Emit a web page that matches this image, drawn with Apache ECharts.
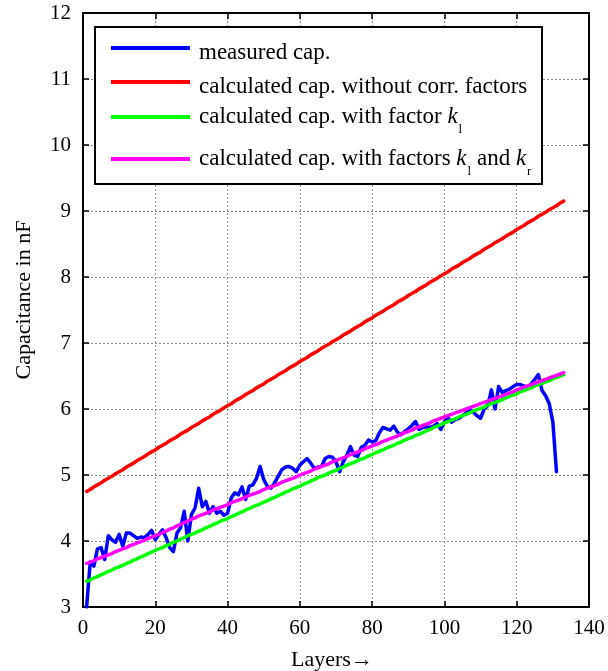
<!DOCTYPE html>
<html>
<head>
<meta charset="utf-8">
<script src="https://cdn.jsdelivr.net/npm/echarts@6/dist/echarts.min.js"></script>
<style>
  html, body { margin: 0; padding: 0; background: #fff; }
  #chart { width: 608px; height: 671px; }
</style>
</head>
<body>
<div id="chart"></div>
<script>
// Layer index of each winding layer (1 .. 133)
const layers = Array.from({ length: 133 }, (_, i) => i + 1);

// Measured capacitance in nF, layers 1 .. 131
const measuredCap = [
  3.00, 3.68, 3.62, 3.88, 3.90, 3.72, 4.08, 4.02, 3.98, 4.10,
  3.92, 4.12, 4.12, 4.08, 4.04, 4.06, 4.05, 4.10, 4.16, 4.02,
  4.10, 4.17, 4.05, 3.90, 3.84, 4.12, 4.20, 4.45, 4.00, 4.40,
  4.50, 4.80, 4.52, 4.60, 4.42, 4.52, 4.42, 4.45, 4.39, 4.42,
  4.65, 4.73, 4.70, 4.82, 4.63, 4.83, 4.85, 4.95, 5.13, 4.93,
  4.83, 4.80, 4.88, 4.98, 5.08, 5.12, 5.13, 5.10, 5.05, 5.15,
  5.20, 5.25, 5.18, 5.10, 5.12, 5.13, 5.25, 5.28, 5.27, 5.20,
  5.05, 5.20, 5.30, 5.43, 5.30, 5.28, 5.42, 5.45, 5.53, 5.50,
  5.52, 5.64, 5.72, 5.70, 5.68, 5.74, 5.65, 5.61, 5.66, 5.70,
  5.75, 5.81, 5.69, 5.72, 5.73, 5.72, 5.74, 5.78, 5.69, 5.81,
  5.86, 5.80, 5.84, 5.86, 5.90, 5.94, 5.99, 5.95, 5.90, 5.86,
  6.00, 6.05, 6.29, 6.00, 6.34, 6.25, 6.28, 6.30, 6.34, 6.37,
  6.37, 6.35, 6.32, 6.38, 6.45, 6.52, 6.28, 6.20, 6.08, 5.80,
  5.05
];

// Calculated capacitance without correction factors, nF
const calcNoCorr = [
  4.75, 4.78, 4.82, 4.85, 4.88, 4.92, 4.95, 4.98, 5.02, 5.05,
  5.08, 5.12, 5.15, 5.18, 5.22, 5.25, 5.28, 5.32, 5.35, 5.38,
  5.42, 5.45, 5.48, 5.52, 5.55, 5.58, 5.62, 5.65, 5.68, 5.72,
  5.75, 5.78, 5.82, 5.85, 5.88, 5.92, 5.95, 5.98, 6.02, 6.05,
  6.08, 6.12, 6.15, 6.18, 6.22, 6.25, 6.28, 6.32, 6.35, 6.38,
  6.42, 6.45, 6.48, 6.52, 6.55, 6.58, 6.62, 6.65, 6.68, 6.72,
  6.75, 6.78, 6.82, 6.85, 6.88, 6.92, 6.95, 6.98, 7.02, 7.05,
  7.08, 7.12, 7.15, 7.18, 7.22, 7.25, 7.28, 7.32, 7.35, 7.38,
  7.42, 7.45, 7.48, 7.52, 7.55, 7.58, 7.62, 7.65, 7.68, 7.72,
  7.75, 7.78, 7.82, 7.85, 7.88, 7.92, 7.95, 7.98, 8.02, 8.05,
  8.08, 8.12, 8.15, 8.18, 8.22, 8.25, 8.28, 8.32, 8.35, 8.38,
  8.42, 8.45, 8.48, 8.52, 8.55, 8.58, 8.62, 8.65, 8.68, 8.72,
  8.75, 8.78, 8.82, 8.85, 8.88, 8.92, 8.95, 8.98, 9.02, 9.05,
  9.08, 9.12, 9.15
];

// Calculated capacitance with factor k_l, nF
const calcWithKl = [
  3.39, 3.41, 3.44, 3.46, 3.49, 3.51, 3.54, 3.56, 3.59, 3.61,
  3.63, 3.66, 3.68, 3.71, 3.73, 3.76, 3.78, 3.81, 3.83, 3.86,
  3.88, 3.90, 3.93, 3.95, 3.98, 4.00, 4.03, 4.05, 4.08, 4.10,
  4.12, 4.15, 4.17, 4.20, 4.22, 4.25, 4.27, 4.30, 4.32, 4.34,
  4.37, 4.39, 4.42, 4.44, 4.47, 4.49, 4.52, 4.54, 4.56, 4.59,
  4.61, 4.64, 4.66, 4.69, 4.71, 4.74, 4.76, 4.79, 4.81, 4.83,
  4.86, 4.88, 4.91, 4.93, 4.96, 4.98, 5.00, 5.03, 5.05, 5.07,
  5.10, 5.12, 5.15, 5.17, 5.19, 5.22, 5.24, 5.26, 5.29, 5.31,
  5.34, 5.36, 5.38, 5.41, 5.43, 5.45, 5.48, 5.50, 5.53, 5.55,
  5.57, 5.60, 5.62, 5.64, 5.67, 5.69, 5.72, 5.74, 5.76, 5.79,
  5.81, 5.83, 5.85, 5.88, 5.90, 5.92, 5.94, 5.97, 5.99, 6.01,
  6.03, 6.06, 6.08, 6.10, 6.12, 6.14, 6.17, 6.19, 6.21, 6.23,
  6.26, 6.28, 6.30, 6.32, 6.35, 6.37, 6.39, 6.41, 6.43, 6.46,
  6.48, 6.50, 6.52
];

// Calculated capacitance with factors k_l and k_r, nF
const calcWithKlKr = [
  3.66, 3.68, 3.70, 3.73, 3.75, 3.77, 3.79, 3.81, 3.84, 3.86,
  3.88, 3.90, 3.93, 3.95, 3.97, 3.99, 4.01, 4.04, 4.06, 4.08,
  4.10, 4.13, 4.15, 4.18, 4.20, 4.23, 4.25, 4.28, 4.30, 4.33,
  4.35, 4.38, 4.40, 4.42, 4.44, 4.47, 4.49, 4.51, 4.53, 4.55,
  4.58, 4.60, 4.62, 4.64, 4.67, 4.69, 4.71, 4.73, 4.75, 4.78,
  4.80, 4.82, 4.84, 4.86, 4.89, 4.91, 4.93, 4.95, 4.97, 5.00,
  5.02, 5.04, 5.06, 5.09, 5.11, 5.13, 5.15, 5.17, 5.20, 5.22,
  5.24, 5.26, 5.28, 5.31, 5.33, 5.35, 5.37, 5.40, 5.42, 5.44,
  5.46, 5.48, 5.51, 5.53, 5.55, 5.57, 5.59, 5.62, 5.64, 5.66,
  5.68, 5.71, 5.73, 5.75, 5.77, 5.79, 5.82, 5.84, 5.86, 5.88,
  5.90, 5.92, 5.94, 5.96, 5.98, 6.00, 6.02, 6.04, 6.06, 6.08,
  6.10, 6.12, 6.14, 6.16, 6.18, 6.20, 6.22, 6.24, 6.26, 6.29,
  6.31, 6.33, 6.35, 6.37, 6.39, 6.41, 6.43, 6.45, 6.47, 6.49,
  6.51, 6.53, 6.55
];

const seriesNames = [
  'measured cap.',
  'calculated cap. without corr. factors',
  'calculated cap. with factor kl',
  'calculated cap. with factors kl and kr'
];
const seriesColors = ['#0000ff', '#ff0000', '#00ff00', '#ff00ff'];
const seriesValues = [measuredCap, calcNoCorr, calcWithKl, calcWithKlKr];

// Legend labels: italic k with lowered subscripts
const legendLabels = {
  'measured cap.': '{p|measured cap.}',
  'calculated cap. without corr. factors': '{p|calculated cap. without corr. factors}',
  'calculated cap. with factor kl': '{t|calculated cap. with factor }{k|k}{s|l}',
  'calculated cap. with factors kl and kr': '{t|calculated cap. with factors }{k|k}{s|l}{m| and }{k|k}{s|r}'
};

const serif = 'Liberation Serif, Times New Roman, serif';
const legendRowTops = [36, 70, 105, 147];

const chart = echarts.init(document.getElementById('chart'), null, { renderer: 'canvas' });

const richText = {
  p: { fontFamily: serif, fontSize: 23, color: '#000', lineHeight: 24, verticalAlign: 'top', padding: [5, 0, 0, 4] },
  t: { fontFamily: serif, fontSize: 23, color: '#000', lineHeight: 24, verticalAlign: 'top', padding: [0, 0, 0, 4] },
  m: { fontFamily: serif, fontSize: 23, color: '#000', lineHeight: 24, verticalAlign: 'top' },
  k: { fontFamily: serif, fontSize: 23, fontStyle: 'italic', color: '#000', lineHeight: 24, verticalAlign: 'top' },
  s: { fontFamily: serif, fontSize: 13, color: '#000', lineHeight: 13, verticalAlign: 'top', padding: [18, 0, 0, 1] }
};

const axisLineStyle = { color: '#000', width: 2 };
const tickStyle = { show: true, inside: true, length: 6, lineStyle: { color: '#000', width: 1.5 } };
const gridLine = { show: true, lineStyle: { color: '#888', width: 1, type: [2, 2] } };

chart.setOption({
  animation: false,
  backgroundColor: '#fff',
  grid: { left: 83, right: 19, top: 13, bottom: 64, containLabel: false, outerBoundsMode: 'none' },
  graphic: [{
    type: 'rect',
    z: 5,
    shape: { x: 95, y: 27, width: 447, height: 157 },
    style: { fill: '#fff', stroke: '#000', lineWidth: 2 }
  }],
  legend: seriesNames.map((name, i) => ({
    data: [name],
    orient: 'vertical',
    left: 111,
    top: legendRowTops[i],
    padding: 0,
    itemWidth: 79,
    itemHeight: 4,
    icon: 'rect',
    selectedMode: false,
    z: 10,
    formatter: n => legendLabels[n],
    textStyle: { fontFamily: serif, fontSize: 23, color: '#000', rich: richText }
  })),
  xAxis: [{
    type: 'value', min: 0, max: 140, interval: 20,
    name: 'Layers\u2192', nameLocation: 'middle', nameGap: 42,
    nameTextStyle: { fontFamily: serif, fontSize: 22, color: '#000', padding: [0, 8, 0, 0] },
    axisLine: { show: true, onZero: false, lineStyle: axisLineStyle },
    axisTick: tickStyle,
    axisLabel: { fontFamily: serif, fontSize: 21, color: '#000', margin: 11 },
    splitLine: gridLine
  }, {
    type: 'value', min: 0, max: 140, interval: 20, position: 'top',
    axisLine: { show: true, onZero: false, lineStyle: axisLineStyle },
    axisTick: tickStyle, axisLabel: { show: false }, splitLine: { show: false }
  }],
  yAxis: [{
    type: 'value', min: 3, max: 12, interval: 1,
    name: 'Capacitance in nF', nameLocation: 'middle', nameGap: 48,
    nameTextStyle: { fontFamily: serif, fontSize: 22, color: '#000', padding: [0, 0, 0, 20] },
    axisLine: { show: true, onZero: false, lineStyle: axisLineStyle },
    axisTick: tickStyle,
    axisLabel: { fontFamily: serif, fontSize: 21, color: '#000', margin: 12 },
    splitLine: gridLine
  }, {
    type: 'value', min: 3, max: 12, interval: 1, position: 'right',
    axisLine: { show: true, onZero: false, lineStyle: axisLineStyle },
    axisTick: tickStyle, axisLabel: { show: false }, splitLine: { show: false }
  }],
  series: seriesNames.map((name, i) => ({
    name,
    type: 'line',
    xAxisIndex: 0,
    yAxisIndex: 0,
    showSymbol: false,
    symbol: 'none',
    color: seriesColors[i],
    lineStyle: { color: seriesColors[i], width: 3.5, join: 'round', cap: 'round' },
    data: seriesValues[i].map((v, j) => [layers[j], v])
  }))
});
</script>
</body>
</html>
